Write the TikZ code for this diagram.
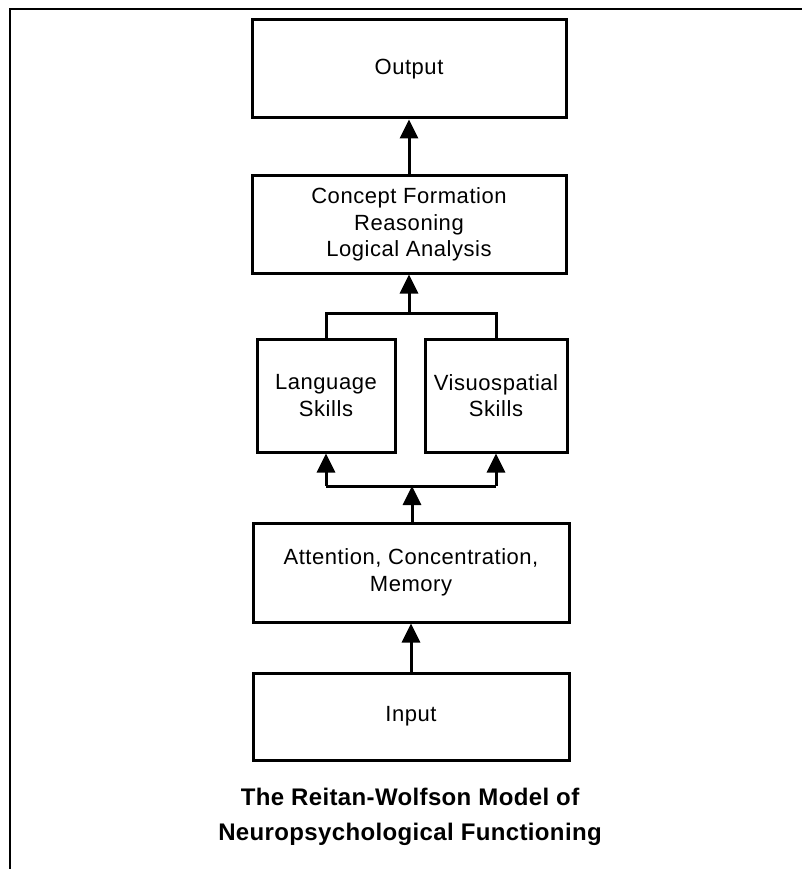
\documentclass[tikz,border=0pt]{standalone}
\usepackage{fontspec}
\setmainfont{Liberation Sans}
\usetikzlibrary{arrows.meta}
\begin{document}
\begin{tikzpicture}[x=1pt,y=-1pt,
  blk/.style={draw=black,line width=3pt,rectangle,inner sep=0pt,align=center,
    font=\fontsize{22}{26.5}\selectfont\addfontfeatures{LetterSpace=2.5}},
  conn/.style={line width=3pt},
  arr/.style={line width=3pt,-{Triangle[width=18pt,length=19pt]}},
  ttl/.style={align=center,font=\fontsize{24}{35}\selectfont\bfseries\addfontfeatures{LetterSpace=1.5}}]
\useasboundingbox (0,0) rectangle (802,869);
\fill[white] (0,0) rectangle (802,869);
\draw[line width=2pt] (802,9) -- (10,9) -- (10,869);

\node[blk,minimum width=314pt,minimum height=98pt] (output) at (409,69) {Output};
\node[blk,minimum width=314pt,minimum height=97pt] (concept) at (409,224.5)
  {Concept Formation\\Reasoning\\Logical Analysis};
\node[blk,minimum width=138pt,minimum height=113pt] (lang) at (326,395.5) {Language\\Skills};
\node[blk,minimum width=142pt,minimum height=113pt] (vis) at (496,395.5) {Visuospatial\\Skills};
\node[blk,minimum width=316pt,minimum height=99pt] (att) at (411,572.5)
  {Attention, Concentration,\\Memory};
\node[blk,minimum width=316pt,minimum height=87pt] (input) at (411,716.5) {Input};
\node[ttl] (title) at (410,817) {The Reitan-Wolfson Model of\\Neuropsychological Functioning};

\coordinate (cb) at (409,313);
\coordinate (bb) at (412,486);

\draw[arr] (concept.north) -- (output.south);
\draw[conn] (lang.north) -- (lang.north |- cb) -- (vis.north |- cb) -- (vis.north);
\draw[arr] (cb) -- (concept.south);
\draw[conn] (bb -| lang) -- (bb -| vis);
\draw[arr] (bb -| lang) -- (lang.south);
\draw[arr] (bb -| vis) -- (vis.south);
\draw[arr] (att.north -| bb) -- (bb);
\draw[arr] (input.north -| att) -- (att.south);
\end{tikzpicture}
\end{document}
